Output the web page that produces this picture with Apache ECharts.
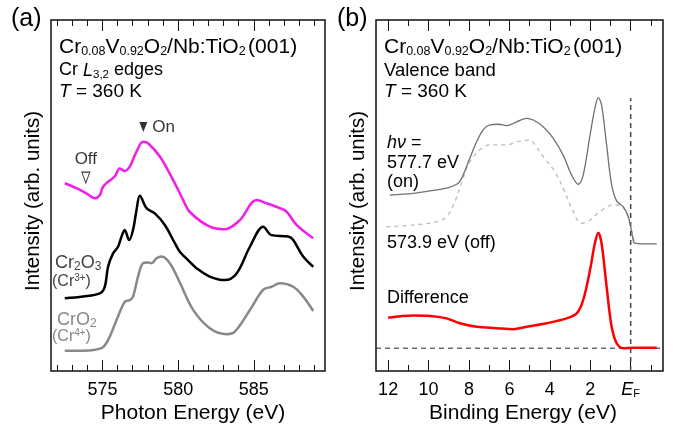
<!DOCTYPE html>
<html><head><meta charset="utf-8">
<script src="https://cdn.jsdelivr.net/npm/echarts@6/dist/echarts.min.js"></script>
<style>html,body{margin:0;padding:0;background:#fff}#c{width:673px;height:430px}</style>
</head><body><div id="c"></div>
<script>
// ---------- Panel (a): Cr L3,2 XAS ----------
const photonRange = [571.6, 589.7];
const photonMajorTicks = [575, 580, 585];
const photonMinorTicks = [572, 573, 574, 576, 577, 578, 579, 581, 582, 583, 584, 586, 587, 588, 589];

const crvoE = [572.51, 573.28, 573.94, 574.49, 574.82, 575.04, 575.37, 575.81, 576.14, 576.47, 576.80, 577.25, 577.68, 578.01, 578.79, 579.67, 580.33, 580.77, 582.09, 583.08, 584.08, 585.18, 585.84, 586.72, 587.16, 587.82, 588.92];
const crvoI = [53.5, 52.1, 50.6, 49.2, 50.1, 52.5, 53.9, 55.4, 57.7, 57.0, 58.2, 62.5, 65.3, 64.9, 61.1, 54.4, 48.7, 45.3, 41.1, 40.4, 43.0, 48.7, 47.8, 46.4, 45.4, 41.6, 37.8];

const cr2o3E = [572.51, 573.72, 574.82, 575.15, 575.37, 575.70, 576.03, 576.26, 576.47, 576.76, 577.02, 577.25, 577.47, 577.91, 578.46, 579.12, 579.78, 580.11, 580.77, 581.21, 582.09, 583.08, 583.86, 584.74, 585.62, 586.17, 587.27, 587.60, 588.26, 588.92];
const cr2o3I = [20.7, 21.2, 22.1, 24.0, 29.7, 33.5, 35.4, 38.3, 40.2, 37.3, 40.2, 45.9, 49.9, 46.4, 44.9, 41.6, 36.4, 34.0, 31.1, 29.3, 26.9, 25.9, 27.8, 35.4, 41.1, 38.7, 38.3, 37.3, 32.6, 29.7];

const cro2E = [572.51, 573.72, 574.93, 575.37, 575.93, 576.47, 576.80, 577.02, 577.35, 577.68, 578.01, 578.24, 578.57, 578.90, 579.45, 580.11, 580.99, 582.09, 583.20, 583.74, 584.74, 585.61, 586.17, 586.72, 587.60, 588.26, 588.92];
const cro2I = [5.8, 5.8, 6.5, 8.8, 14.5, 19.7, 20.2, 21.2, 26.9, 30.7, 30.9, 30.7, 32.1, 32.6, 30.7, 25.2, 17.4, 12.2, 10.5, 11.2, 17.4, 23.1, 24.0, 25.0, 24.0, 21.2, 17.1];

const markerOn = [577.7, 69.5];
const markerOff = [573.9, 55.1];

// ---------- Panel (b): valence band ----------
const bindingRange = [-1.6, 12.6];
const bindingMajorTicks = [0, 2, 4, 6, 8, 10, 12];
const bindingMinorTicks = [-1, 1, 3, 5, 7, 9, 11];

const onBE = [11.92, 10.76, 9.94, 9.11, 8.53, 8.29, 7.96, 7.62, 7.30, 6.97, 6.55, 6.14, 5.64, 5.15, 4.82, 4.33, 3.83, 3.34, 2.92, 2.59, 2.35, 2.01, 1.77, 1.60, 1.44, 1.19, 0.94, 0.69, 0.37, 0.12, -0.05, -0.21, -0.71, -1.29];
const onI = [50.1, 50.6, 51.3, 52.1, 53.5, 55.8, 60.6, 65.3, 68.7, 70.1, 70.3, 69.9, 71.0, 72.0, 71.5, 69.6, 66.3, 61.5, 55.8, 53.2, 55.8, 67.2, 74.8, 77.9, 75.8, 64.4, 53.0, 48.4, 46.8, 44.0, 39.7, 36.4, 36.2, 36.2];

const offBE = [12.08, 10.76, 9.60, 9.11, 8.70, 8.29, 7.96, 7.46, 6.97, 6.14, 5.64, 5.48, 4.99, 4.74, 4.33, 3.75, 3.34, 2.92, 2.43, 2.01, 1.52, 0.86, 0.53, 0.20, 0.03, -0.21];
const offI = [41.1, 41.6, 42.5, 44.0, 48.2, 54.9, 59.6, 63.0, 64.4, 64.4, 65.3, 65.5, 65.8, 64.4, 61.1, 56.8, 52.1, 46.4, 42.1, 43.0, 45.4, 47.3, 47.3, 44.9, 41.6, 36.4];

const diffBE = [12.00, 10.76, 9.94, 9.11, 8.45, 7.62, 6.63, 5.81, 5.15, 4.16, 3.17, 2.67, 2.35, 2.01, 1.77, 1.60, 1.44, 1.19, 0.94, 0.69, 0.37, -0.13, -1.29];
const diffI = [15.2, 15.8, 15.7, 15.0, 13.6, 12.6, 12.2, 11.9, 12.6, 13.6, 15.0, 16.4, 20.2, 28.8, 36.4, 39.4, 36.4, 24.0, 12.6, 7.9, 6.5, 6.6, 6.6];

const fermiLineI = [0, 77.8];
const diffBaseline = 6.5;

// ---------- build ----------
const FF = '"Liberation Sans", Arial, sans-serif';
const zip = (a, b) => a.map((v, i) => [v, b[i]]);
const TXT = '#000';

function xAxes(gridIndex, range, major, minor, inverse, withLabels) {
  const base = {
    type: 'value', gridIndex, min: range[0], max: range[1], inverse,
    axisLine: { show: false }, splitLine: { show: false }
  };
  const mk = (pos, ticks, len, labels) => Object.assign({}, base, {
    position: pos,
    axisTick: { show: true, inside: true, length: len, customValues: ticks, lineStyle: { color: '#111', width: 1 } },
    axisLabel: labels ? {
      show: true, customValues: ticks, fontSize: 18, color: TXT, fontFamily: FF, margin: 10,
      formatter: v => (v === 0 && inverse) ? '{e|E}{f|F}' : String(v),
      rich: {
        e: { fontSize: 18, fontStyle: 'italic', fontFamily: FF, color: TXT },
        f: { fontSize: 11, fontFamily: FF, color: TXT, verticalAlign: 'bottom' }
      }
    } : { show: false }
  });
  return [
    mk('bottom', major, 11, withLabels),
    mk('bottom', minor, 6, false),
    mk('top', major, 11, false),
    mk('top', minor, 6, false)
  ];
}

function richSet(size, sub, color) {
  return {
    s: { fontSize: sub, fontFamily: FF, verticalAlign: 'bottom', fill: color },
    i: { fontSize: size, fontFamily: FF, fontStyle: 'italic', fill: color },
    u: { fontSize: sub, fontFamily: FF, verticalAlign: 'top', fill: color },
    g: { fontSize: 9, fontFamily: FF, fill: color }
  };
}
function txt(x, y, text, size, sub, color, extra) {
  color = color || TXT;
  return Object.assign({
    type: 'text', x, y, z: 100,
    style: {
      text, fontSize: size, fontFamily: FF, fill: color, align: 'left', verticalAlign: 'middle',
      lineHeight: Math.round(size * 1.1), rich: richSet(size, sub, color)
    }
  }, extra || {});
}
const title = 'Cr{s|0.08}V{s|0.92}O{s|2}/Nb:TiO{s|2}{g| }(001)';

const option = {
  animation: false,
  backgroundColor: '#fff',
  grid: [
    { left: 51, top: 20, width: 274, height: 351, show: true, borderColor: '#111', borderWidth: 1.5, backgroundColor: 'transparent' },
    { left: 376, top: 20, width: 287, height: 351, show: true, borderColor: '#111', borderWidth: 1.5, backgroundColor: 'transparent' }
  ],
  xAxis: [].concat(
    xAxes(0, photonRange, photonMajorTicks, photonMinorTicks, false, true),
    xAxes(1, bindingRange, bindingMajorTicks, bindingMinorTicks, true, true)
  ),
  yAxis: [
    { type: 'value', gridIndex: 0, min: 0, max: 100, show: false },
    { type: 'value', gridIndex: 1, min: 0, max: 100, show: false }
  ],
  series: [
    { type: 'line', xAxisIndex: 0, yAxisIndex: 0, data: zip(cro2E, cro2I), smooth: 0.35, symbol: 'none', lineStyle: { color: '#888', width: 2.5 } },
    { type: 'line', xAxisIndex: 0, yAxisIndex: 0, data: zip(cr2o3E, cr2o3I), smooth: 0.35, symbol: 'none', lineStyle: { color: '#000', width: 2.5 } },
    { type: 'line', xAxisIndex: 0, yAxisIndex: 0, data: zip(crvoE, crvoI), smooth: 0.35, symbol: 'none', lineStyle: { color: '#f01ee8', width: 2.5 } },
    { type: 'scatter', xAxisIndex: 0, yAxisIndex: 0, data: [markerOn], symbol: 'triangle', symbolRotate: 180, symbolSize: [8, 10], itemStyle: { color: '#000' }, silent: true,
      label: { show: true, position: 'right', distance: 5, formatter: 'On', fontSize: 17, fontFamily: FF, color: '#000' } },
    { type: 'scatter', xAxisIndex: 0, yAxisIndex: 0, data: [markerOff], symbol: 'triangle', symbolRotate: 180, symbolSize: [8, 11], itemStyle: { color: '#fff', borderColor: '#000', borderWidth: 1 }, silent: true,
      label: { show: true, position: 'top', distance: 4, formatter: 'Off', fontSize: 17, fontFamily: FF, color: '#000' } },

    { type: 'line', xAxisIndex: 4, yAxisIndex: 1, data: [[bindingRange[1], diffBaseline], [bindingRange[0], diffBaseline]], symbol: 'none', lineStyle: { color: '#222', width: 1, type: [5, 4] } },
    { type: 'line', xAxisIndex: 4, yAxisIndex: 1, data: [[0, fermiLineI[0]], [0, fermiLineI[1]]], symbol: 'none', lineStyle: { color: '#444', width: 1.5, type: [5, 4] } },
    { type: 'line', xAxisIndex: 4, yAxisIndex: 1, data: zip(offBE, offI), smooth: 0.35, symbol: 'none', lineStyle: { color: '#bbb', width: 1.3, type: [4, 4] } },
    { type: 'line', xAxisIndex: 4, yAxisIndex: 1, data: zip(onBE, onI), smooth: 0.35, symbol: 'none', lineStyle: { color: '#707070', width: 1.3 } },
    { type: 'line', xAxisIndex: 4, yAxisIndex: 1, data: zip(diffBE, diffI), smooth: 0.35, symbol: 'none', lineStyle: { color: '#ff0000', width: 2.5 } }
  ],
  graphic: [
    txt(11, 19, '(a)', 25, 12),
    txt(337, 19, '(b)', 25, 12),
    txt(59, 47, title, 21, 12.5),
    txt(59, 70.5, 'Cr {i|L}{s|3,2} edges', 18, 11.5),
    txt(59, 91.5, '{i|T} = 360 K', 19, 12),
    txt(384, 47, title, 21, 12.5),
    txt(384, 70.5, 'Valence band', 18.5, 12),
    txt(384, 91.5, '{i|T} = 360 K', 19, 12),
    txt(55, 263, 'Cr{s|2}O{s|3}', 18, 12, '#444'),
    txt(52, 282, '(Cr{u|3+})', 16, 10, '#444'),
    txt(57, 320, 'CrO{s|2}', 18, 12, '#888'),
    txt(52, 337, '(Cr{u|4+})', 16, 10, '#888'),
    txt(387, 143, '{i|hν} =', 18, 11),
    txt(387, 163, '577.7 eV', 18, 11),
    txt(387, 182, '(on)', 18, 11),
    txt(387, 243, '573.9 eV (off)', 18, 11),
    txt(387, 298, 'Difference', 18, 11),
    txt(193, 413, 'Photon Energy (eV)', 21, 12, TXT, { style: undefined }),
  ]
};
// axis titles
option.graphic.pop();
const axisTitle = (x, y, text, rot) => ({
  type: 'text', x, y, z: 100, rotation: rot || 0,
  style: { text, fontSize: rot ? 20.5 : 21, fontFamily: FF, fill: TXT, align: 'center', verticalAlign: 'middle' }
});
option.graphic.push(
  axisTitle(193, 413, 'Photon Energy (eV)'),
  axisTitle(523, 413, 'Binding Energy (eV)'),
  axisTitle(33, 201, 'Intensity (arb. units)', Math.PI / 2),
  axisTitle(358, 201, 'Intensity (arb. units)', Math.PI / 2)
);

const chart = echarts.init(document.getElementById('c'), null, { renderer: 'canvas' });
chart.setOption(option);
</script>
</body></html>
